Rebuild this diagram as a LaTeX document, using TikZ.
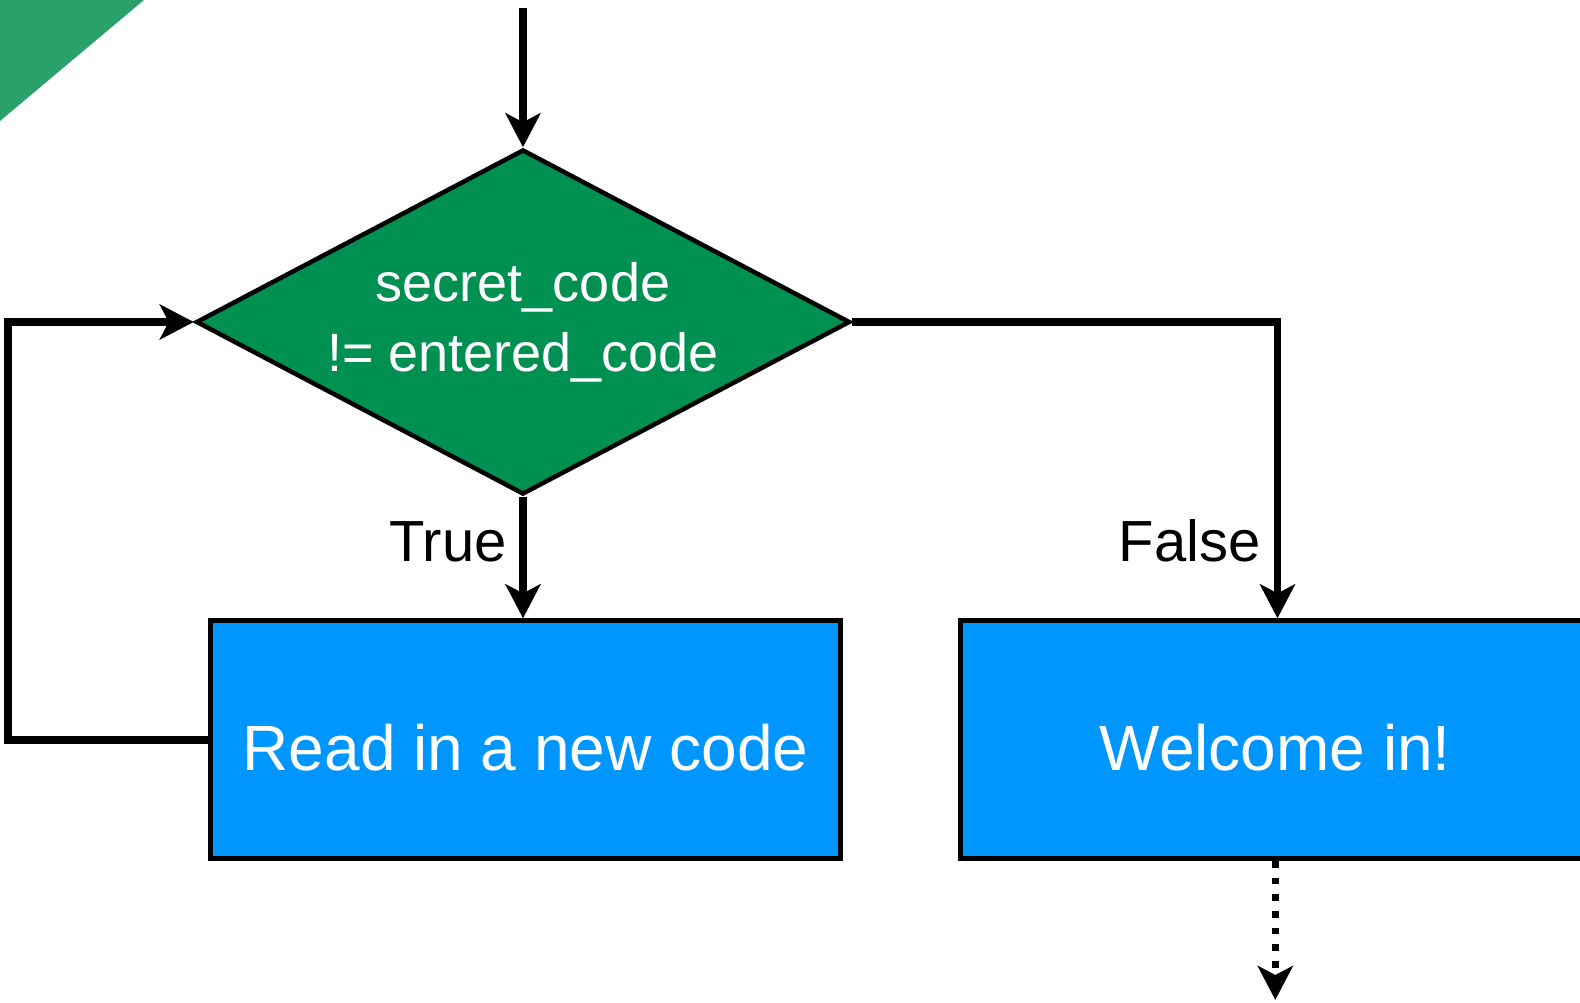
\documentclass[tikz,border=0pt]{standalone}
\usepackage{fontspec}
\setmainfont{Liberation Sans}
\usetikzlibrary{shapes.geometric,arrows.meta}
\definecolor{decisiongreen}{RGB}{0,144,81}
\definecolor{cornergreen}{RGB}{41,161,106}
\definecolor{stepblue}{RGB}{0,150,255}
\tikzset{
  flow/.style={line width=7.8pt, -{Stealth[length=34pt,width=35pt,inset=9pt]}},
  decision/.style={diamond, draw=black, line width=4.5pt, fill=decisiongreen,
    text=white, align=center, font=\fontsize{54}{70}\selectfont,
    minimum width=654pt, minimum height=345pt, aspect=1.89, inner sep=0pt},
  stepbox/.style={rectangle, draw=black, line width=4.5pt, fill=stepblue,
    text=white, font=\fontsize{64}{76}\selectfont,
    minimum width=630pt, minimum height=238pt,
    text height=62pt, text depth=0pt, inner sep=0pt},
  branchlabel/.style={anchor=base east, inner sep=0pt, font=\fontsize{58}{70}\selectfont}
}
\begin{document}
\begin{tikzpicture}[x=1pt,y=-1pt]
  \clip (0,0) rectangle (1580,1003);
  \fill[white] (0,0) rectangle (1580,1003);

  % corner accent
  \fill[cornergreen] (0,0) -- (144,0) -- (0,121) -- cycle;

  % nodes
  \node[decision] (dia) at (523,322) {secret\_code\\!= entered\_code};
  \node[stepbox] (read) at (525.5,739.6) {Read in a new code};
  \node[stepbox] (welcome) at (1275.3,739.6) {Welcome in!};

  \coordinate (top) at (523,8);
  \coordinate (loopx) at (8,0);
  \coordinate (falsex) at (1277.5,0);
  \coordinate (exit) at (1275.3,1000);

  % branch labels
  \node[branchlabel] (truelbl) at (507,561) {True};
  \node[branchlabel] (falselbl) at (1261,561) {False};

  % connectors
  \draw[flow] (top) -- (dia.north);
  \draw[flow] (dia.south) -- (dia.south |- read.north);
  \draw[flow] (dia.east) -| (falsex |- welcome.north);
  \draw[flow] (read.west) -- (read.west -| loopx) |- (dia.west);
  \draw[flow, line width=6.7pt, dash pattern=on 6.7pt off 10pt] (welcome.south) -- (exit);
\end{tikzpicture}
\end{document}
